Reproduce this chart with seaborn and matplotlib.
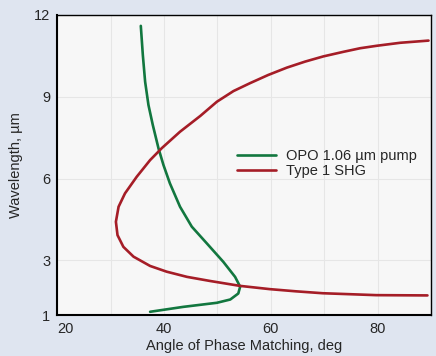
import pandas as pd
import seaborn as sns
import matplotlib.pyplot as plt
from matplotlib.ticker import MultipleLocator

# OPO 1.06 um pump curve (angle deg, wavelength um)
opo_angle = [35.66, 36.04, 36.47, 37.09, 37.9, 38.97, 39.9, 41.1, 43.0, 45.2,
             48.0, 51.1, 53.3, 54.25, 53.9, 52.4, 49.9, 43.6, 37.4]
opo_wl = [11.6, 10.53, 9.55, 8.70, 7.97, 7.11, 6.5, 5.83, 4.97, 4.24,
          3.63, 2.95, 2.40, 2.04, 1.79, 1.57, 1.45, 1.30, 1.12]

# Type 1 SHG curve
shg_angle = [89.5, 84.2, 79.8, 76.7, 73.6, 69.8, 66.4, 63.0, 59.5, 56.1,
             53.0, 49.9, 46.8, 43.0, 39.6, 37.4, 34.9, 32.7, 31.5, 31.0,
             31.3, 32.4, 34.3, 37.4, 40.5, 44.3, 48.6, 54.2, 59.8, 64.7,
             69.7, 79.7, 89.3]
shg_wl = [11.06, 10.98, 10.87, 10.78, 10.65, 10.48, 10.29, 10.07, 9.8, 9.5,
          9.21, 8.82, 8.30, 7.72, 7.12, 6.68, 6.07, 5.46, 4.97, 4.42,
          3.93, 3.50, 3.14, 2.80, 2.59, 2.40, 2.25, 2.07, 1.95, 1.87,
          1.80, 1.73, 1.72]

labels = ['OPO 1.06 µm pump', 'Type 1 SHG']
colors = ['#12773f', '#a51d27']

df = pd.concat([
    pd.DataFrame({'angle': opo_angle, 'wl': opo_wl, 'curve': labels[0]}),
    pd.DataFrame({'angle': shg_angle, 'wl': shg_wl, 'curve': labels[1]}),
])

sns.set_style('white')
plt.rcParams['font.family'] = ['Liberation Sans', 'DejaVu Sans']

fig = plt.figure(figsize=(4.36, 3.56), dpi=100, facecolor='#dfe5f0')
ax = fig.add_axes([0.131, 0.115, 0.858, 0.843])
ax.set_facecolor('#f7f7f7')

sns.lineplot(data=df, x='angle', y='wl', hue='curve', units='curve',
             estimator=None, sort=False, palette=colors, linewidth=1.9, ax=ax)
for ln in ax.lines:
    ln.set_solid_joinstyle('round')

ax.set_xlim(20, 90)
ax.set_ylim(1, 12)
ax.set_xticks([20, 40, 60, 80])
ax.xaxis.set_minor_locator(MultipleLocator(10))
ax.set_yticks([1, 3, 6, 9, 12])
ax.grid(True, which='both', color='#e6e6e6', linewidth=0.8)
ax.tick_params(which='both', direction='in', labelsize=10.5, color='black', pad=5)
ax.tick_params(which='major', length=4)
ax.tick_params(which='minor', length=2.5)
ax.get_xticklabels()[0].set_ha('left')
for s in ax.spines.values():
    s.set_color('black')
    s.set_linewidth(1.0)
ax.spines['left'].set_linewidth(1.5)
ax.spines['bottom'].set_linewidth(1.5)

ax.set_xlabel('Angle of Phase Matching, deg', fontsize=10.5, labelpad=2)
ax.set_ylabel('Wavelength, µm', fontsize=10.5, labelpad=8)

ax.legend(title=None, frameon=False, fontsize=10.5, loc='center left',
          bbox_to_anchor=(0.465, 0.505), handlelength=2.7, handletextpad=0.7,
          labelspacing=0.1, borderaxespad=0)

fig.savefig('out.png', dpi=100, facecolor=fig.get_facecolor())
